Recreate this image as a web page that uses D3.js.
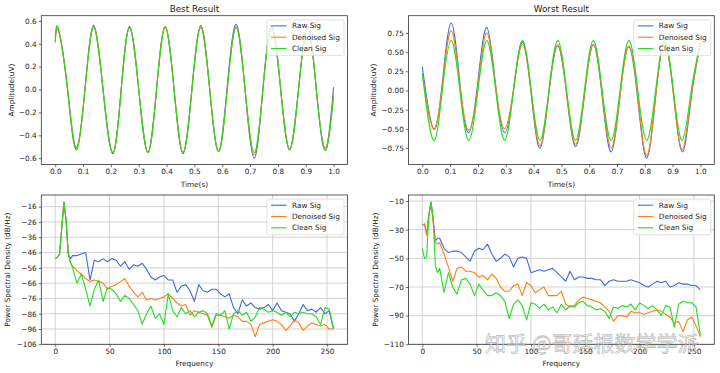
<!DOCTYPE html>
<html lang="en">
<head>
<meta charset="UTF-8">
<title>Best / Worst Result</title>
<script src="https://cdnjs.cloudflare.com/ajax/libs/d3/7.8.5/d3.min.js"></script>
<style>
  body { margin: 0; padding: 0; background: #ffffff; }
  svg { display: block; font-family: "DejaVu Sans", sans-serif; }
</style>
</head>
<body>
<div id="chart"></div>
<script>
// ---- time domain, best result ----
const tBest = [0, 0.012, 0.044, 0.075, 0.107, 0.138, 0.172, 0.207, 0.237, 0.267, 0.300, 0.333, 0.364, 0.395, 0.427, 0.459, 0.491,
               0.523, 0.555, 0.587, 0.618, 0.650, 0.682, 0.715, 0.746, 0.778, 0.810, 0.842, 0.874, 0.907, 0.938, 0.970, 1.0];
const bestRaw      = [0.42, 0.51, 0.02, -0.51, 0.01, 0.56, -0.01, -0.56, 0.0, 0.55, 0.0, -0.55, 0.0, 0.55, 0.0, -0.56, 0.0,
                      0.56, 0.0, -0.54, 0.03, 0.57, 0.0, -0.60, 0.0, 0.55, 0.0, -0.52, 0.0, 0.55, 0.0, -0.53, 0.02];
const bestDenoised = [0.41, 0.52, 0.0, -0.52, 0.0, 0.55, 0.0, -0.55, 0.0, 0.54, 0.0, -0.55, 0.0, 0.55, 0.0, -0.55, 0.0,
                      0.55, 0.0, -0.54, 0.0, 0.55, 0.0, -0.57, 0.0, 0.54, 0.0, -0.52, 0.0, 0.54, 0.0, -0.51, -0.04];
const bestClean    = [0.45, 0.53, 0.0, -0.53, 0.0, 0.54, 0.0, -0.55, 0.0, 0.54, 0.0, -0.55, 0.0, 0.54, 0.0, -0.55, 0.0,
                      0.54, 0.0, -0.54, 0.0, 0.54, 0.0, -0.55, 0.0, 0.54, 0.0, -0.53, 0.0, 0.54, 0.0, -0.53, -0.06];

// ---- time domain, worst result ----
const tWorst = [0, 0.04, 0.072, 0.104, 0.135, 0.167, 0.2, 0.232, 0.264, 0.296, 0.328, 0.36, 0.392, 0.423, 0.455, 0.487,
                0.519, 0.551, 0.583, 0.615, 0.647, 0.679, 0.711, 0.743, 0.775, 0.807, 0.839, 0.871, 0.903, 0.935, 0.967, 1.0];
const worstRaw      = [0.31, -0.50, 0.10, 0.88, 0.10, -0.55, 0.12, 0.82, 0.06, -0.55, 0.0, 0.63, -0.06, -0.75, -0.04, 0.58,
                       -0.05, -0.73, -0.06, 0.60, -0.08, -0.80, -0.06, 0.57, -0.12, -0.88, -0.08, 0.62, -0.04, -0.80, -0.10, 0.62];
const worstDenoised = [0.22, -0.50, 0.08, 0.78, 0.08, -0.52, 0.07, 0.75, 0.05, -0.50, 0.02, 0.60, -0.04, -0.72, -0.04, 0.60,
                       -0.04, -0.70, -0.05, 0.60, -0.05, -0.75, -0.07, 0.58, -0.08, -0.85, -0.08, 0.62, -0.05, -0.77, -0.07, 0.60];
const worstClean    = [0.22, -0.65, 0.0, 0.65, 0.0, -0.65, 0.0, 0.65, 0.0, -0.65, 0.0, 0.65, 0.0, -0.65, 0.0, 0.65,
                       0.0, -0.65, 0.0, 0.65, 0.0, -0.65, 0.0, 0.65, 0.0, -0.65, 0.0, 0.65, 0.0, -0.65, 0.0, 0.62];

// ---- power spectral density (dB/Hz) ----
const freqs = [0, 2, 4, 6, 8, 10, 12, 14, 16, 20, 24, 28, 32, 36, 40, 44, 48, 52, 56, 60, 64, 68, 72, 76, 80, 84, 88, 92, 96,
               100, 104, 108, 112, 116, 120, 124, 128, 132, 136, 140, 144, 148, 152, 156, 160, 164, 168, 172, 176, 180, 184,
               188, 192, 196, 200, 204, 208, 212, 216, 220, 224, 228, 232, 236, 240, 244, 248, 252, 256];

const psdBestRaw = [-50, -49, -47, -30, -13, -25, -47, -50, -48, -48, -47, -46, -64, -51, -52, -50, -52, -50, -51, -55, -52,
                    -57, -54, -55, -53, -57, -62, -64, -62, -61, -64, -64, -72, -68, -67, -71, -78, -67, -71, -72, -70, -70,
                    -73, -75, -73, -82, -86, -77, -81, -79, -82, -83, -82, -80, -84, -79, -84, -85, -86, -91, -86, -80, -84,
                    -83, -85, -82, -86, -84, -96];
const psdBestDenoised = [-50, -49, -47, -30, -13, -25, -47, -53, -55, -58, -60, -63, -65, -64, -65, -66, -70, -68, -67, -65,
                         -63, -68, -72, -75, -72, -77, -76, -77, -76, -75, -73, -76, -79, -81, -80, -87, -84, -85, -86, -87,
                         -95, -87, -87, -88, -89, -87, -88, -91, -91, -93, -101, -93, -92, -91, -90, -91, -93, -97, -94, -90,
                         -92, -97, -94, -92, -93, -94, -93, -96, -96];
const psdBestClean = [-50, -49, -47, -30, -13, -25, -47, -52, -56, -66, -60, -70, -81, -70, -64, -78, -69, -70, -73, -78,
                      -74, -76, -80, -84, -93, -86, -81, -89, -86, -93, -73, -84, -88, -82, -86, -84, -88, -85, -84, -86,
                      -94, -86, -87, -84, -96, -86, -84, -87, -85, -91, -88, -82, -83, -85, -84, -85, -87, -85, -88, -85,
                      -86, -85, -86, -86, -88, -93, -82, -83, -96];

const psdWorstRaw = [-27, -26, -33, -20, -11, -22, -38, -36, -36, -43, -46, -45, -45, -46, -49, -52, -45, -43, -44, -40,
                     -47, -52, -50, -47, -49, -56, -50, -49, -50, -60, -59, -58, -59, -58, -57, -60, -63, -66, -59, -65,
                     -63, -63, -64, -64, -65, -65, -69, -66, -65, -66, -66, -66, -65, -66, -67, -69, -70, -68, -66, -67,
                     -66, -70, -69, -67, -68, -68, -69, -69, -72];
const psdWorstDenoised = [-27, -26, -34, -20, -12, -25, -39, -40, -39, -47, -56, -66, -57, -56, -59, -59, -60, -63, -62,
                          -65, -61, -64, -70, -73, -73, -69, -68, -76, -67, -69, -74, -72, -70, -76, -76, -76, -73, -82,
                          -84, -83, -79, -77, -78, -79, -80, -81, -84, -87, -94, -90, -90, -91, -87, -88, -88, -89, -88,
                          -87, -86, -87, -89, -91, -95, -94, -101, -93, -91, -97, -105];
const psdWorstClean = [-43, -50, -49, -20, -10.5, -22, -55, -60, -57, -74, -60, -70, -75, -65, -64, -68, -76, -68, -72,
                       -76, -76, -74, -76, -80, -92, -82, -79, -83, -93, -81, -82, -85, -82, -86, -84, -88, -82, -86,
                       -83, -84, -81, -80, -83, -84, -86, -85, -87, -92, -84, -85, -83, -84, -82, -86, -81, -83, -85,
                       -83, -86, -90, -83, -84, -98, -82, -80, -81, -81, -84, -104];

// ---- tick values ----
const timeTicks = [0, 0.1, 0.2, 0.3, 0.4, 0.5, 0.6, 0.7, 0.8, 0.9, 1.0];
const bestAmpTicks = [-0.6, -0.4, -0.2, 0.0, 0.2, 0.4, 0.6];
const worstAmpTicks = [-0.75, -0.5, -0.25, 0.0, 0.25, 0.5, 0.75];
const freqTicks = [0, 50, 100, 150, 200, 250];
const psdBestTicks = [-106, -96, -86, -76, -66, -56, -46, -36, -26, -16];
const psdWorstTicks = [-110, -90, -70, -50, -30, -10];

const seriesNames = ["Raw Sig", "Denoised Sig", "Clean Sig"];
const colors = ["#4169e1", "#ff7f0e", "#22dd22"];

const W = 720, H = 373;
const svg = d3.select("#chart").append("svg")
    .attr("width", W).attr("height", H)
    .attr("viewBox", [0, 0, W, H]);

const panels = [
    {id: "tl", box: [41.3, 15.7, 347.5, 164.5], xd: [-0.05, 1.05], yd: [-0.655, 0.645], xt: timeTicks, yt: bestAmpTicks,
     xf: d3.format(".1f"), yf: d3.format(".1f"), xs: tBest, ys: [bestRaw, bestDenoised, bestClean],
     curve: d3.curveNatural, grid: false, title: "Best Result", xlabel: "Time(s)", ylabel: "Amplitude(uV)", ylabelX: 11.7},
    {id: "tr", box: [408.4, 15.7, 714.3, 164.5], xd: [-0.05, 1.05], yd: [-0.965, 0.975], xt: timeTicks, yt: worstAmpTicks,
     xf: d3.format(".1f"), yf: d3.format(".2f"), xs: tWorst, ys: [worstRaw, worstDenoised, worstClean],
     curve: d3.curveNatural, grid: false, title: "Worst Result", xlabel: "Time(s)", ylabel: "Amplitude(uV)", ylabelX: 373.5},
    {id: "bl", box: [41.3, 195, 347.5, 344.3], xd: [-12.8, 268.8], yd: [-106, -8.4], xt: freqTicks, yt: psdBestTicks,
     xf: d3.format("d"), yf: d3.format("d"), xs: freqs, ys: [psdBestRaw, psdBestDenoised, psdBestClean],
     curve: d3.curveLinear, grid: true, title: null, xlabel: "Frequency", ylabel: "Power Spectral Density (dB/Hz)", ylabelX: 7.5},
    {id: "br", box: [408.4, 195, 714.3, 344.3], xd: [-12.8, 268.8], yd: [-110, -5.8], xt: freqTicks, yt: psdWorstTicks,
     xf: d3.format("d"), yf: d3.format("d"), xs: freqs, ys: [psdWorstRaw, psdWorstDenoised, psdWorstClean],
     curve: d3.curveLinear, grid: true, title: null, xlabel: "Frequency", ylabel: "Power Spectral Density (dB/Hz)", ylabelX: 375}
];

const FS = 7.3;

panels.forEach(p => {
    const [x0, y0, x1, y1] = p.box;
    const x = d3.scaleLinear().domain(p.xd).range([x0, x1]);
    const y = d3.scaleLinear().domain(p.yd).range([y1, y0]);
    const g = svg.append("g");

    g.append("clipPath").attr("id", "clip-" + p.id)
        .append("rect").attr("x", x0).attr("y", y0).attr("width", x1 - x0).attr("height", y1 - y0);

    if (p.grid) {
        g.append("g").selectAll("line").data(p.xt).join("line")
            .attr("x1", d => x(d)).attr("x2", d => x(d)).attr("y1", y0).attr("y2", y1)
            .attr("stroke", "#c8c8c8").attr("stroke-width", 0.8);
        g.append("g").selectAll("line").data(p.yt).join("line")
            .attr("y1", d => y(d)).attr("y2", d => y(d)).attr("x1", x0).attr("x2", x1)
            .attr("stroke", "#c8c8c8").attr("stroke-width", 0.8);
    }

    const line = d3.line().curve(p.curve);
    const lines = g.append("g").attr("clip-path", `url(#clip-${p.id})`);
    p.ys.forEach((vals, i) => {
        lines.append("path")
            .datum(vals.map((v, k) => [x(p.xs[k]), y(v)]))
            .attr("fill", "none")
            .attr("stroke", colors[i])
            .attr("stroke-width", 1.1)
            .attr("stroke-linejoin", "round")
            .attr("d", line);
    });

    // axes
    const xAxis = g.append("g").attr("transform", `translate(0,${y1})`)
        .call(d3.axisBottom(x).tickValues(p.xt).tickFormat(p.xf).tickSize(2.6).tickPadding(2));
    const yAxis = g.append("g").attr("transform", `translate(${x0},0)`)
        .call(d3.axisLeft(y).tickValues(p.yt).tickFormat(p.yf).tickSize(2.6).tickPadding(2));
    [xAxis, yAxis].forEach(a => {
        a.select(".domain").remove();
        a.selectAll(".tick line").attr("stroke", "#333").attr("stroke-width", 0.7);
        a.selectAll(".tick text").attr("fill", "#222").style("font-size", FS + "px")
            .style("font-family", "DejaVu Sans, sans-serif");
    });

    g.append("rect").attr("x", x0).attr("y", y0).attr("width", x1 - x0).attr("height", y1 - y0)
        .attr("fill", "none").attr("stroke", "#333").attr("stroke-width", 0.8);

    // labels
    if (p.title) {
        g.append("text").attr("x", (x0 + x1) / 2).attr("y", y0 - 3.6)
            .attr("text-anchor", "middle").attr("fill", "#222")
            .style("font-size", "8.8px").text(p.title);
    }
    g.append("text").attr("x", (x0 + x1) / 2).attr("y", y1 + 22)
        .attr("text-anchor", "middle").attr("fill", "#222")
        .style("font-size", FS + "px").text(p.xlabel);
    g.append("text")
        .attr("transform", `translate(${p.ylabelX},${(y0 + y1) / 2}) rotate(-90)`)
        .attr("text-anchor", "middle").attr("dominant-baseline", "central").attr("fill", "#222")
        .style("font-size", FS + "px").text(p.ylabel);

    // legend
    const lw = 77, lh = 35.5;
    const lx = x1 - 3.5 - lw, ly = y0 + 4.2;
    const leg = g.append("g").attr("transform", `translate(${lx},${ly})`);
    leg.append("rect").attr("width", lw).attr("height", lh).attr("rx", 1.5)
        .attr("fill", "rgba(255,255,255,0.8)").attr("stroke", "#d6d6d6").attr("stroke-width", 0.7);
    seriesNames.forEach((name, i) => {
        const cy = 6 + i * 11.3;
        leg.append("line").attr("x1", 4).attr("x2", 19.5).attr("y1", cy).attr("y2", cy)
            .attr("stroke", colors[i]).attr("stroke-width", 1.1);
        leg.append("text").attr("x", 25).attr("y", cy).attr("dominant-baseline", "central")
            .attr("fill", "#222").style("font-size", FS + "px").text(name);
    });
});

// watermark
svg.append("text").attr("x", 485).attr("y", 342)
    .attr("dominant-baseline", "central")
    .style("font-family", "Noto Sans CJK SC, sans-serif").style("font-size", "21px")
    .attr("fill", "rgba(255,255,255,0.55)").attr("stroke", "rgba(110,110,110,0.45)").attr("stroke-width", 0.8)
    .text("知乎 @哥廷根数学学派");
</script>
</body>
</html>
